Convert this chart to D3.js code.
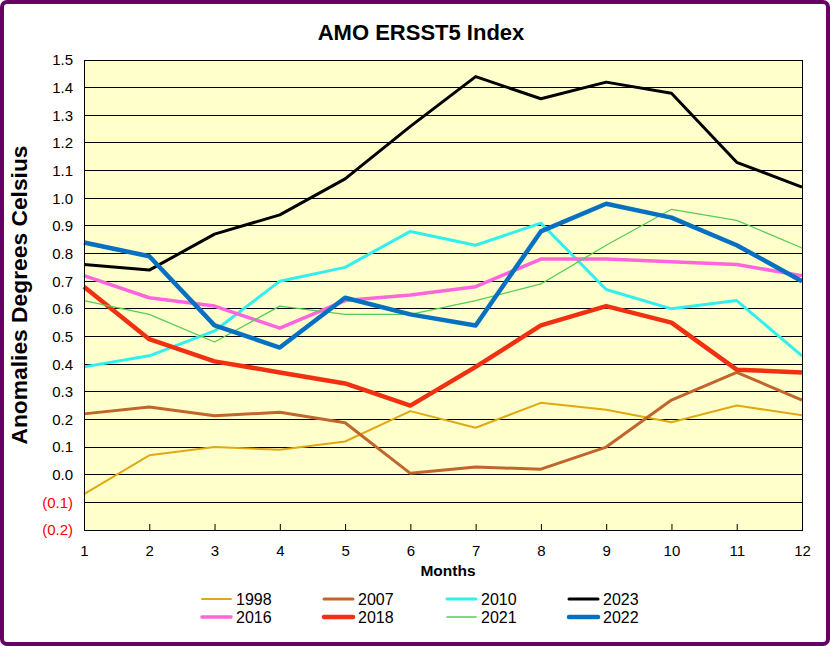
<!DOCTYPE html>
<html><head><meta charset="utf-8">
<script src="https://cdn.jsdelivr.net/npm/d3@7"></script>
<style>
html,body{margin:0;padding:0;background:#fff;}
svg{display:block;font-family:"Liberation Sans",Arial,sans-serif;}
</style></head>
<body>
<svg id="c" width="830" height="646"></svg>
<script>
const months = [1,2,3,4,5,6,7,8,9,10,11,12];
const yTicks = [-0.2,-0.1,0,0.1,0.2,0.3,0.4,0.5,0.6,0.7,0.8,0.9,1.0,1.1,1.2,1.3,1.4,1.5];
const s1998 = [-0.07,0.07,0.10,0.09,0.12,0.23,0.17,0.26,0.235,0.19,0.25,0.215];
const s2007 = [0.22,0.245,0.213,0.226,0.188,0.005,0.028,0.02,0.10,0.27,0.37,0.27];
const s2010 = [0.39,0.43,0.52,0.70,0.75,0.88,0.83,0.91,0.67,0.60,0.63,0.43];
const s2023 = [0.76,0.74,0.87,0.94,1.07,1.26,1.44,1.36,1.42,1.38,1.13,1.04];
const s2016 = [0.72,0.64,0.61,0.53,0.63,0.65,0.68,0.78,0.78,0.77,0.76,0.72];
const s2018 = [0.68,0.49,0.41,0.37,0.33,0.25,0.39,0.54,0.61,0.55,0.38,0.37];
const s2021 = [0.63,0.58,0.48,0.61,0.58,0.58,0.63,0.69,0.83,0.96,0.92,0.82];
const s2022 = [0.84,0.79,0.54,0.46,0.64,0.58,0.54,0.88,0.98,0.93,0.83,0.70];
const seriesNames = ["1998","2007","2010","2023","2016","2018","2021","2022"];

const series = [
  {name:"1998", values:s1998, color:"#E0A812", w:2},
  {name:"2007", values:s2007, color:"#C0652C", w:3},
  {name:"2010", values:s2010, color:"#33EEEE", w:3},
  {name:"2023", values:s2023, color:"#000000", w:3},
  {name:"2016", values:s2016, color:"#FF66DD", w:3.5},
  {name:"2018", values:s2018, color:"#F03010", w:4.5},
  {name:"2021", values:s2021, color:"#55CC55", w:1.3},
  {name:"2022", values:s2022, color:"#0870C0", w:4.5}
];

const svg = d3.select("#c");
// outer frame
svg.append("rect").attr("x",2).attr("y",2).attr("width",826).attr("height",642)
  .attr("rx",5).attr("fill","#fff").attr("stroke","#660066").attr("stroke-width",4);

const L=84,R=802,T=60,B=530;
const x = d3.scaleLinear().domain([1,12]).range([L,R]);
const y = d3.scaleLinear().domain([-0.2,1.5]).range([B,T]);

svg.append("rect").attr("x",L).attr("y",T).attr("width",R-L).attr("height",B-T).attr("fill","#FFFFCC");

// gridlines
svg.append("g").selectAll("line").data(yTicks).join("line")
  .attr("x1",L).attr("x2",R).attr("y1",d=>y(d)).attr("y2",d=>y(d))
  .attr("stroke","#000").attr("stroke-width",1).attr("shape-rendering","crispEdges");

// y axis labels
const fmt = d => d < 0 ? "(" + Math.abs(d).toFixed(1) + ")" : d.toFixed(1);
svg.append("g").selectAll("text").data(yTicks).join("text")
  .attr("x",73).attr("y",d=>y(d)).attr("dy","0.36em").attr("text-anchor","end")
  .attr("font-size",15).attr("fill",d=>d<0?"#FF0000":"#000").text(fmt);

// x axis
const xAxis = d3.axisBottom(x).tickValues(months).tickSize(-6).tickPadding(15).tickFormat(d3.format("d"));
const gx = svg.append("g").attr("transform",`translate(0,${B})`).call(xAxis);
gx.select(".domain").remove();
gx.selectAll(".tick line").attr("stroke","#000");
gx.selectAll(".tick text").attr("font-size",15).attr("fill","#000").attr("font-family","'Liberation Sans',Arial,sans-serif");

// lines
const line = d3.line().x((d,i)=>x(months[i])).y(d=>y(d));
svg.append("g").selectAll("path").data(series).join("path")
  .attr("d",d=>line(d.values)).attr("fill","none")
  .attr("stroke",d=>d.color).attr("stroke-width",d=>d.w).attr("stroke-linejoin","round");

// plot border
svg.append("rect").attr("x",L).attr("y",T).attr("width",R-L).attr("height",B-T)
  .attr("fill","none").attr("stroke","#000").attr("stroke-width",1).attr("shape-rendering","crispEdges");

// title
svg.append("text").attr("x",421).attr("y",40).attr("text-anchor","middle")
  .attr("font-size",22).attr("font-weight","bold").text("AMO ERSST5 Index");
// y label
svg.append("text").attr("transform","translate(27,295) rotate(-90)").attr("text-anchor","middle")
  .attr("font-size",22.8).attr("font-weight","bold").text("Anomalies Degrees Celsius");
// x label
svg.append("text").attr("x",448).attr("y",576).attr("text-anchor","middle")
  .attr("font-size",15.5).attr("font-weight","bold").text("Months");

// legend
const colX = [202,324,447,569];
const rowY = [599,617];
const lg = svg.append("g").selectAll("g").data(series).join("g")
  .attr("transform",(d,i)=>`translate(${colX[i%4]},${rowY[Math.floor(i/4)]})`);
lg.append("line").attr("x1",0).attr("x2",29).attr("y1",0).attr("y2",0)
  .attr("stroke",d=>d.color).attr("stroke-width",d=>Math.max(d.w,1.5)).attr("stroke-linecap","round");
lg.append("text").attr("x",34).attr("y",0).attr("dy","0.36em").attr("font-size",16).text(d=>d.name);
</script>
</body></html>
